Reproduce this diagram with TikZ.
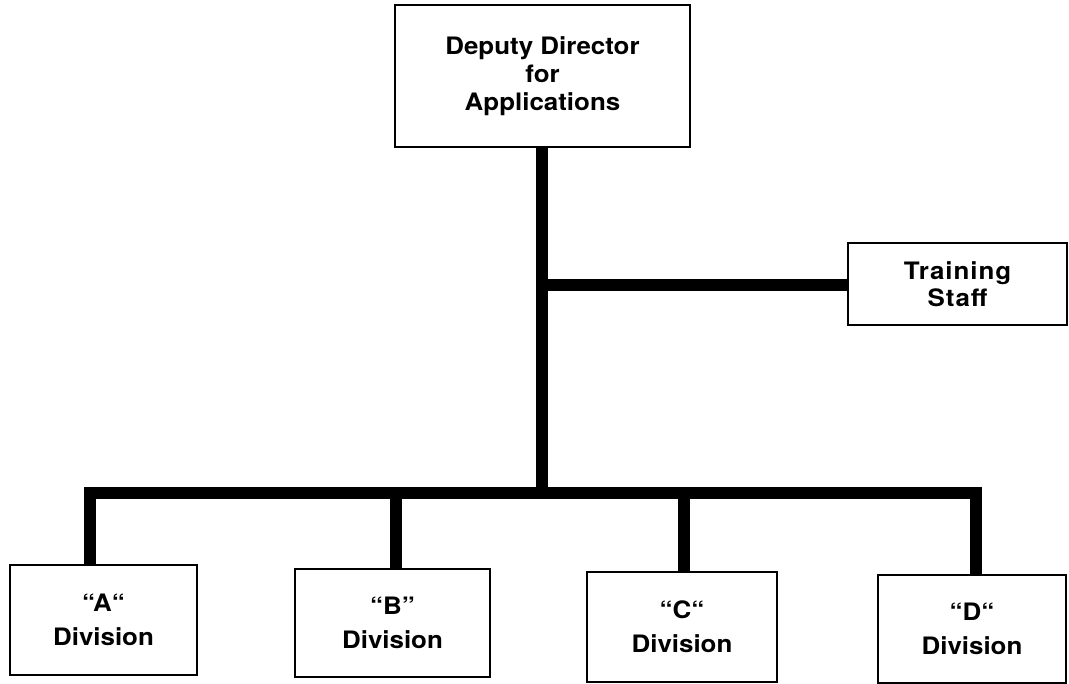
\documentclass[tikz,border=0pt]{standalone}
\usepackage{fontspec}
\setmainfont{TeX Gyre Heros}[FakeStretch=1.08]
\begin{document}
\begin{tikzpicture}[x=1pt,y=-1pt,
  box/.style={draw,line width=2pt,rectangle,inner sep=0pt,align=center,
    font=\fontsize{24}{28}\selectfont\bfseries},
  divbox/.style={box,font=\fontsize{24}{34}\selectfont\bfseries},
  bar/.style={line width=12pt,line join=miter}]
\useasboundingbox (0,0) rectangle (1069,684);
\node[box,minimum width=295pt,minimum height=142pt] (top) at (542.5,76) {Deputy Director\\for\\Applications};
\node[box,minimum width=219pt,minimum height=82pt,
  font=\fontsize{24}{27}\selectfont\bfseries\addfontfeature{LetterSpace=4}] (ts) at (957.5,284) {Training\\Staff};
\node[divbox,minimum width=187pt,minimum height=110pt] (A) at (103.5,620) {“A“\\Division};
\node[divbox,minimum width=195pt,minimum height=108pt] (B) at (392.5,623) {“B”\\Division};
\node[divbox,minimum width=190pt,minimum height=110pt] (C) at (682,627) {“C“\\Division};
\node[divbox,minimum width=188pt,minimum height=108pt] (D) at (972,629) {“D“\\Division};
\coordinate (j) at (542,493);
\coordinate (k) at (542,285);
\draw[bar] (top.south -| j) -- (j);
\draw[bar] (k) -- (ts.west |- k);
\draw[bar] ([xshift=-13.5pt]A.north) -- ([xshift=-13.5pt]A.north |- j) -- ([xshift=4pt]D.north |- j) -- ([xshift=4pt]D.north);
\draw[bar] ([xshift=3.5pt]B.north |- j) -- ([xshift=3.5pt]B.north);
\draw[bar] ([xshift=2pt]C.north |- j) -- ([xshift=2pt]C.north);
\end{tikzpicture}
\end{document}
